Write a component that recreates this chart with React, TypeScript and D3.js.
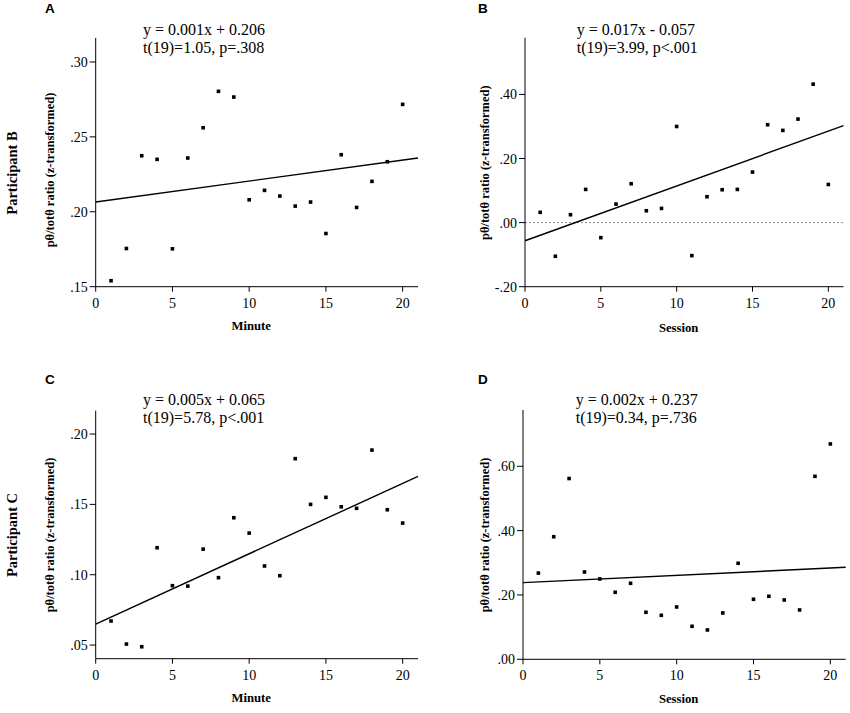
import React from "react";
import * as d3 from "d3";

const sessions = d3.range(1, 21);

const valuesA = [0.154, 0.1755, 0.2374, 0.235, 0.1753, 0.2359, 0.2561, 0.2804, 0.2766, 0.208, 0.2143, 0.2105, 0.2038, 0.2065, 0.1855, 0.2381, 0.2029, 0.2203, 0.2334, 0.2717];
const valuesB = [0.032, -0.105, 0.0246, 0.1036, -0.047, 0.0578, 0.1213, 0.037, 0.0443, 0.3, -0.103, 0.0807, 0.1026, 0.1036, 0.1577, 0.3054, 0.2877, 0.323, 0.432, 0.119];
const valuesC = [0.0671, 0.0507, 0.0488, 0.1192, 0.0922, 0.0919, 0.1182, 0.0979, 0.1405, 0.1296, 0.1062, 0.0993, 0.1825, 0.15, 0.155, 0.1483, 0.1472, 0.1886, 0.1462, 0.1367];
const valuesD = [0.268, 0.381, 0.562, 0.2715, 0.2498, 0.2083, 0.2363, 0.1462, 0.1368, 0.1627, 0.1026, 0.0912, 0.1441, 0.2985, 0.1866, 0.1959, 0.1845, 0.1534, 0.5689, 0.6694];

const fitIntercepts = [0.2065, -0.0566, 0.0649, 0.2383];
const fitSlopes = [0.0014, 0.0171, 0.005, 0.00227];

const panelLetters = ["A", "B", "C", "D"];
const equations = [
  ["y = 0.001x + 0.206", "t(19)=1.05, p=.308"],
  ["y = 0.017x - 0.057", "t(19)=3.99, p<.001"],
  ["y = 0.005x + 0.065", "t(19)=5.78, p<.001"],
  ["y = 0.002x + 0.237", "t(19)=0.34, p=.736"],
];
const xLabels = ["Minute", "Session", "Minute", "Session"];
const yDomains: [number, number][] = [
  [0.15, 0.316],
  [-0.2, 0.577],
  [0.0403, 0.2166],
  [0, 0.775],
];
const yTicks = [
  [0.15, 0.2, 0.25, 0.3],
  [-0.2, 0, 0.2, 0.4],
  [0.05, 0.1, 0.15, 0.2],
  [0, 0.2, 0.4, 0.6],
];
const xTicks = [0, 5, 10, 15, 20];
const xDomain: [number, number] = [0, 21];
const participants = ["Participant B", "Participant C"];
const yAxisTitle = "pθ/totθ ratio (z-transformed)";

const allValues = [valuesA, valuesB, valuesC, valuesD];

// layout
const rects = [
  { left: 95.7, top: 38, right: 418, bottom: 286.7 },
  { left: 525, top: 37.7, right: 843.5, bottom: 286.7 },
  { left: 95.7, top: 410.7, right: 418, bottom: 658.7 },
  { left: 523, top: 410, right: 845.7, bottom: 659.3 },
];
const letterPos = [
  { x: 45, y: 13.3 },
  { x: 478, y: 13.3 },
  { x: 45, y: 384 },
  { x: 478, y: 384 },
];
const eqPos = [
  { x: 143, y: 35 },
  { x: 576.7, y: 35 },
  { x: 143, y: 405 },
  { x: 575.7, y: 405 },
];
const yTitlePos = [
  { x: 54, y: 170 },
  { x: 488.5, y: 162.7 },
  { x: 54, y: 535 },
  { x: 488.5, y: 535 },
];
const xTitleY = [330, 331.7, 701.7, 702.7];
const participantPos = [
  { x: 16.5, y: 173 },
  { x: 16.5, y: 535 },
];

const serif = "'Liberation Serif', 'Times New Roman', serif";
const sans = "'Liberation Sans', Arial, sans-serif";

const fmt = (v: number) => {
  const s = v.toFixed(2);
  return s.replace(/^(-?)0\./, "$1.");
};

function Panel({ i }: { i: number }) {
  const r = rects[i];
  const x = d3.scaleLinear().domain(xDomain).range([r.left, r.right]);
  const y = d3.scaleLinear().domain(yDomains[i]).range([r.bottom, r.top]);
  const vals = allValues[i];
  const line = d3
    .line<number>()
    .x((d) => x(d))
    .y((d) => y(fitIntercepts[i] + fitSlopes[i] * d));
  const s = 3.6;
  return (
    <g>
      <text x={letterPos[i].x} y={letterPos[i].y} fontFamily={sans} fontWeight="bold" fontSize={13.5}>
        {panelLetters[i]}
      </text>
      {equations[i].map((t, k) => (
        <text key={k} x={eqPos[i].x} y={eqPos[i].y + k * 18.3} fontFamily={serif} fontSize={16}>
          {t}
        </text>
      ))}
      {i === 1 && (
        <line
          x1={x(xDomain[0])}
          x2={x(xDomain[1])}
          y1={y(0)}
          y2={y(0)}
          stroke="#888"
          strokeWidth={1}
          strokeDasharray="2,2"
        />
      )}
      {/* axes */}
      <line x1={r.left} x2={r.left} y1={r.top} y2={r.bottom} stroke="#000" strokeWidth={1} />
      <line x1={r.left} x2={r.right} y1={r.bottom} y2={r.bottom} stroke="#000" strokeWidth={1} />
      {yTicks[i].map((t) => (
        <g key={t}>
          <line x1={r.left - 6} x2={r.left} y1={y(t)} y2={y(t)} stroke="#000" />
          <text
            x={r.left - 8}
            y={y(t) + 5}
            textAnchor="end"
            fontFamily={serif}
            fontSize={14}
          >
            {fmt(t)}
          </text>
        </g>
      ))}
      {xTicks.map((t) => (
        <g key={t}>
          <line x1={x(t)} x2={x(t)} y1={r.bottom} y2={r.bottom + 5} stroke="#000" />
          <text x={x(t)} y={r.bottom + 21} textAnchor="middle" fontFamily={serif} fontSize={14}>
            {t}
          </text>
        </g>
      ))}
      <text
        x={x(10) + 2}
        y={xTitleY[i]}
        textAnchor="middle"
        fontFamily={serif}
        fontWeight="bold"
        fontSize={12.7}
      >
        {xLabels[i]}
      </text>
      <text
        transform={`translate(${yTitlePos[i].x},${yTitlePos[i].y}) rotate(-90)`}
        textAnchor="middle"
        fontFamily={serif}
        fontWeight="bold"
        fontSize={12.5}
      >
        {yAxisTitle}
      </text>
      <path d={line([xDomain[0], xDomain[1]]) || ""} fill="none" stroke="#000" strokeWidth={1.4} />
      {vals.map((v, k) => (
        <rect key={k} x={x(sessions[k]) - s / 2} y={y(v) - s / 2} width={s} height={s} fill="#000" />
      ))}
    </g>
  );
}

export default function App() {
  return (
    <div style={{ position: "absolute", left: 0, top: 0 }}>
      <svg width={850} height={713} style={{ display: "block", background: "#fff" }}>
        <rect x={0} y={0} width={850} height={713} fill="#fff" />
        {participants.map((p, k) => (
          <text
            key={p}
            transform={`translate(${participantPos[k].x},${participantPos[k].y}) rotate(-90)`}
            textAnchor="middle"
            fontFamily={serif}
            fontWeight="bold"
            fontSize={14.5}
          >
            {p}
          </text>
        ))}
        {[0, 1, 2, 3].map((i) => (
          <Panel key={i} i={i} />
        ))}
      </svg>
    </div>
  );
}
